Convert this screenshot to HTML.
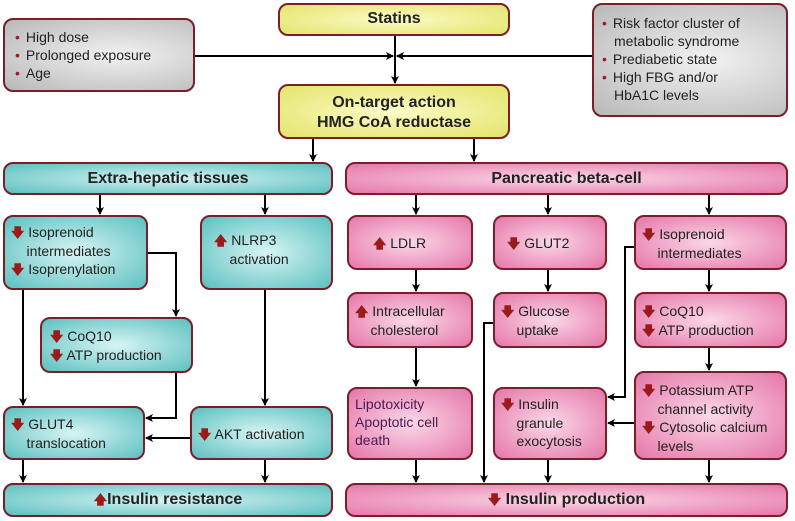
<!DOCTYPE html>
<html><head><meta charset="utf-8"><style>
body{margin:0;width:795px;height:521px;background:#fff;position:relative;overflow:hidden;font-family:"Liberation Sans",sans-serif}
.b{position:absolute;box-sizing:border-box;border:2.5px solid #7a1f2a;border-radius:10px;color:#222;font-size:14px;line-height:18px}
.g{background:radial-gradient(ellipse at 60% 50%,#f2f2f2,#b8b8b8)}
.y{background:radial-gradient(ellipse at 50% 50%,#fbfbc8,#e4e46a);font-weight:bold;font-size:16px;text-align:center}
.t{background:radial-gradient(ellipse at 50% 50%,#d8f4f4,#5cc0c0)}
.p{background:radial-gradient(ellipse at 50% 50%,#fad8e8,#e676a8)}
.h{font-weight:bold;font-size:16px;text-align:center;line-height:29px}
.d{color:#9b1b1b;font-weight:bold;font-size:13px}
ul{margin:0;padding:0;list-style:none}
li.bl:before{content:"•";color:#a01c2c;margin-right:6px}
li.c{padding-left:12px}
svg{position:absolute;left:0;top:0}
</style></head><body>
<div class="b g" style="left:3px;top:18px;width:192px;height:74px;padding:8px 0 0 10px">
<ul><li class="bl">High dose</li><li class="bl">Prolonged exposure</li><li class="bl">Age</li></ul></div>
<div class="b y" style="left:278px;top:3px;width:232px;height:33px;line-height:28px">Statins</div>
<div class="b g" style="left:592px;top:3px;width:196px;height:114px;padding:9px 0 0 8px">
<ul><li class="bl">Risk factor cluster of</li><li class="c">metabolic syndrome</li><li class="bl">Prediabetic state</li><li class="bl">High FBG and/or</li><li class="c">HbA1C levels</li></ul></div>
<div class="b y" style="left:278px;top:84px;width:232px;height:55px;padding-top:7px;line-height:20px">On-target action<br>HMG CoA reductase</div>
<div class="b t h" style="left:3px;top:162px;width:330px;height:33px">Extra-hepatic tissues</div>
<div class="b p h" style="left:345px;top:162px;width:443px;height:33px">Pancreatic beta-cell</div>

<div class="b t" style="left:3px;top:215px;width:145px;height:75px;padding:6px 0 0 6px"><span class="d">🡇</span> Isoprenoid<br>&nbsp;&nbsp;&nbsp;&nbsp;intermediates<br><span class="d">🡇</span> Isoprenylation</div>
<div class="b t" style="left:200px;top:215px;width:133px;height:75px;padding:14px 0 0 12px"><span class="d">🡅</span> NLRP3<br>&nbsp;&nbsp;&nbsp;&nbsp;activation</div>
<div class="b t" style="left:40px;top:317px;width:153px;height:56px;padding:8px 0 0 8px"><span class="d">🡇</span> CoQ10<br><span class="d">🡇</span> ATP production</div>
<div class="b t" style="left:3px;top:406px;width:142px;height:54px;padding:7px 0 0 6px"><span class="d">🡇</span> GLUT4<br>&nbsp;&nbsp;&nbsp;&nbsp;translocation</div>
<div class="b t" style="left:190px;top:406px;width:143px;height:54px;padding:17px 0 0 6px"><span class="d">🡇</span> AKT activation</div>
<div class="b t h" style="left:3px;top:483px;width:330px;height:34px"><span class="d">🡅</span>Insulin resistance</div>

<div class="b p" style="left:347px;top:215px;width:126px;height:55px;padding:17px 0 0 24px"><span class="d">🡅</span> LDLR</div>
<div class="b p" style="left:493px;top:215px;width:114px;height:55px;padding:17px 0 0 12px"><span class="d">🡇</span> GLUT2</div>
<div class="b p" style="left:634px;top:215px;width:153px;height:55px;padding:8px 0 0 6px"><span class="d">🡇</span> Isoprenoid<br>&nbsp;&nbsp;&nbsp;&nbsp;intermediates</div>
<div class="b p" style="left:347px;top:292px;width:126px;height:56px;padding:8px 0 0 6px"><span class="d">🡅</span> Intracellular<br>&nbsp;&nbsp;&nbsp;&nbsp;cholesterol</div>
<div class="b p" style="left:493px;top:292px;width:114px;height:56px;padding:8px 0 0 6px"><span class="d">🡇</span> Glucose<br>&nbsp;&nbsp;&nbsp;&nbsp;uptake</div>
<div class="b p" style="left:634px;top:292px;width:153px;height:56px;padding:8px 0 0 6px"><span class="d">🡇</span> CoQ10<br><span class="d">🡇</span> ATP production</div>
<div class="b p" style="left:347px;top:387px;width:126px;height:73px;padding:6px 0 0 6px;color:#4a1a50">Lipotoxicity<br>Apoptotic cell<br>death</div>
<div class="b p" style="left:493px;top:387px;width:114px;height:73px;padding:6px 0 0 6px"><span class="d">🡇</span> Insulin<br>&nbsp;&nbsp;&nbsp;&nbsp;granule<br>&nbsp;&nbsp;&nbsp;&nbsp;exocytosis</div>
<div class="b p" style="left:634px;top:371px;width:153px;height:89px;padding:8px 0 0 6px"><span class="d">🡇</span> Potassium ATP<br>&nbsp;&nbsp;&nbsp;&nbsp;channel activity<br><span class="d">🡇</span> Cytosolic calcium<br>&nbsp;&nbsp;&nbsp;&nbsp;levels</div>
<div class="b p h" style="left:345px;top:483px;width:443px;height:34px"><span class="d">🡇</span> Insulin production</div>

<svg width="795" height="521">
<defs><marker id="a" markerWidth="8" markerHeight="8" refX="7" refY="4" orient="auto" markerUnits="userSpaceOnUse" viewBox="0 0 8 8"><path d="M0,0 L8,4 L0,8 L2,4z" fill="#000"/></marker></defs>
<g stroke="#000" stroke-width="2" fill="none" marker-end="url(#a)">
<path d="M195,56 H393"/><path d="M592,56 H397"/>
<path d="M395,36 V83"/>
<path d="M313,139 V161"/><path d="M474,139 V161"/>
<path d="M100,195 V214"/><path d="M265,195 V214"/>
<path d="M148,253 H176 V316"/>
<path d="M23,290 V405"/>
<path d="M176,373 V418 H146"/>
<path d="M265,290 V405"/>
<path d="M190,438 H146"/>
<path d="M23,460 V482"/><path d="M265,460 V482"/>
<path d="M416,195 V214"/><path d="M548,195 V214"/><path d="M709,195 V214"/>
<path d="M416,270 V291"/><path d="M548,270 V291"/><path d="M709,270 V291"/>
<path d="M416,348 V386"/><path d="M709,348 V370"/>
<path d="M634,247 H625 V397 H608"/>
<path d="M493,323 H484 V482"/>
<path d="M634,423 H608"/>
<path d="M416,460 V482"/><path d="M548,460 V482"/><path d="M709,460 V482"/>
</g></svg>
</body></html>
